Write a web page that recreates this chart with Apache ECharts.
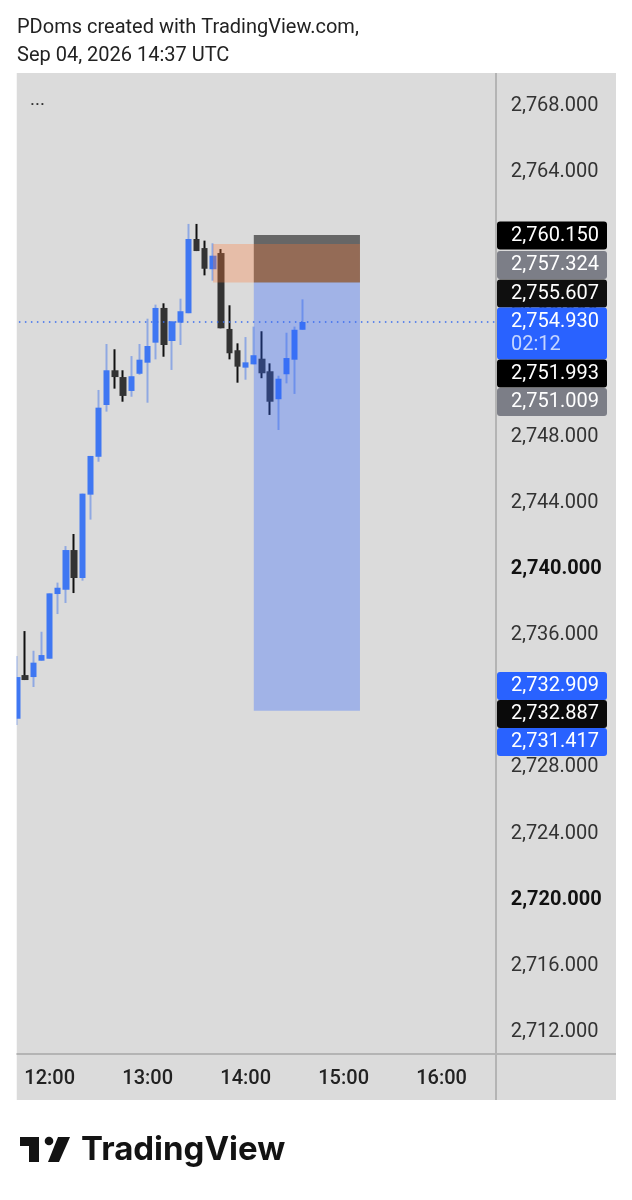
<!DOCTYPE html>
<html><head><meta charset="utf-8">
<style>html,body{margin:0;padding:0;background:#fff}#c{width:632px;height:1200px}</style>
<script src="https://cdn.jsdelivr.net/npm/echarts@6/dist/echarts.min.js"></script>
</head><body><div id="c"></div>
<script>
const candleTimes=["11:40","11:45","11:50","11:55","12:00","12:05","12:10","12:15","12:20","12:25","12:30","12:35","12:40","12:45","12:50","12:55","13:00","13:05","13:10","13:15","13:20","13:25","13:30","13:35","13:40","13:45","13:50","13:55","14:00","14:05","14:10","14:15","14:20","14:25","14:30","14:35"];
const futureTimes=["14:40","14:45","14:50","14:55","15:00","15:05","15:10","15:15","15:20","15:25","15:30","15:35","15:40","15:45","15:50","15:55","16:00","16:05","16:10","16:15","16:20","16:25","16:30"];
const opens=[2730.94,2733.58,2733.46,2734.45,2734.57,2738.48,2738.74,2741.14,2739.45,2744.49,2746.78,2749.91,2752.01,2751.60,2750.76,2751.80,2752.47,2753.68,2755.78,2753.78,2754.89,2755.46,2759.95,2759.40,2758.12,2759.10,2754.51,2753.22,2752.17,2752.37,2752.71,2751.95,2750.26,2751.77,2752.65,2754.46];
const closes=[2733.46,2733.28,2734.33,2734.79,2738.52,2738.86,2741.14,2739.45,2744.55,2746.83,2749.75,2752.01,2751.60,2750.46,2751.65,2752.65,2753.48,2755.78,2753.54,2754.97,2755.58,2759.95,2759.22,2758.15,2758.94,2754.55,2753.04,2752.23,2752.49,2752.92,2751.83,2750.11,2751.50,2752.75,2754.46,2754.93];
const lows=[2730.56,2733.28,2732.86,2734.45,2734.57,2737.27,2737.94,2738.54,2739.29,2742.98,2746.48,2749.51,2750.90,2750.11,2750.41,2751.74,2750.05,2752.67,2752.83,2752.03,2753.54,2755.46,2759.22,2757.75,2757.43,2754.55,2752.67,2751.26,2751.44,2752.37,2751.53,2749.31,2748.40,2751.22,2750.58,2754.46];
const highs=[2734.73,2736.24,2735.05,2736.20,2738.52,2739.17,2741.38,2742.11,2744.55,2746.83,2750.82,2753.60,2753.28,2752.01,2752.87,2753.60,2755.13,2755.98,2756.06,2754.97,2756.34,2760.86,2760.86,2759.85,2759.69,2759.34,2755.94,2753.64,2754.02,2754.65,2754.37,2752.43,2751.68,2754.28,2754.65,2756.30];
const lastPrice=2754.93;
const stopTop=2760.19, orangeTop=2759.65, entryPrice=2757.324, targetPrice=2731.417;
const boxStart="14:05", boxEnd="15:10", orangeStart="13:40";
const boldTicks=[2740,2720];
const tagTexts=["2,760.150","2,757.324","2,755.607","2,754.930","2,751.993","2,751.009","2,732.909","2,732.887","2,731.417"];
const countdownText="02:12";
const titleLines=["PDoms created with TradingView.com,","Sep 04, 2026 14:37 UTC"];

const F='Roboto';
const BLUE='#3f77f2',BLUEW='#8fa8e2',DK='#333333',DKW='#101010';
const cats=candleTimes.concat(futureTimes);
const fmt=v=>v.toLocaleString('en-US',{minimumFractionDigits:3,maximumFractionDigits:3});

// tag stack layout: [top, height, background]
const tagLayout=[[221.5,28,'#000'],[251,28,'#7c7e87'],[279.5,28,'#0f0f0f'],[307.5,52,'#2962ff'],[359.5,28,'#000'],[388,28,'#7c7e87'],[672,28,'#2962ff'],[700,28,'#0a0a0a'],[728,28,'#2962ff']];
const g=[];
g.push({type:'rect',z:-100,shape:{x:16.5,y:73,width:599.5,height:1027},style:{fill:'#dbdbdb'}});
g.push({type:'rect',z:100,shape:{x:0,y:60,width:16.5,height:1060},style:{fill:'#fff'}});
g.push({type:'rect',z:101,shape:{x:495,y:73,width:2,height:1027},style:{fill:'#b4b4b4'}});
g.push({type:'rect',z:101,shape:{x:16.5,y:1053,width:599.5,height:2},style:{fill:'#b4b4b4'}});
tagLayout.forEach((t,i)=>{
  g.push({type:'rect',z:110,shape:{x:497,y:t[0],width:110,height:t[1],r:3},style:{fill:t[2]}});
  g.push({type:'text',z:111,x:511,y:t[0]+14,style:{text:tagTexts[i],fill:'#fff',font:'20px '+F,textVerticalAlign:'middle'}});
});
g.push({type:'text',z:111,x:511,y:345,style:{text:countdownText,fill:'#c5d5ff',font:'20px '+F,textVerticalAlign:'middle'}});
titleLines.forEach((s,i)=>g.push({type:'text',z:111,x:17,y:28+i*28,style:{text:s,fill:'#222',font:'20px '+F,textVerticalAlign:'middle'}}));
g.push({type:'text',z:111,x:30,y:100,style:{text:'...',fill:'#333',font:'19px '+F,textVerticalAlign:'middle'}});
// TradingView logo
g.push({type:'polygon',z:111,shape:{points:[[20,1137],[39,1137],[39,1162],[29,1162],[29,1146],[20,1146]]},style:{fill:'#131313'}});
g.push({type:'circle',z:111,shape:{cx:49,cy:1141,r:4.3},style:{fill:'#131313'}});
g.push({type:'polygon',z:111,shape:{points:[[58,1137],[70,1137],[59,1162],[48,1162]]},style:{fill:'#131313'}});
g.push({type:'text',z:111,x:81,y:1150,style:{text:'TradingView',fill:'#131313',font:'700 33px Inter',textVerticalAlign:'middle'}});

const chart=echarts.init(document.getElementById('c'),null,{renderer:'canvas'});
chart.setOption({
  animation:false,backgroundColor:'#fff',
  graphic:{elements:g},
  grid:{left:12.9,width:481.8,top:39.7,height:1058.4,containLabel:false},
  xAxis:{type:'category',data:cats,position:'bottom',offset:-36,
    axisLine:{show:false},axisTick:{show:false},splitLine:{show:false},
    axisLabel:{interval:(i,v)=>v.endsWith(':00'),color:'#222',fontFamily:F,fontWeight:500,fontSize:20,margin:7,hideOverlap:false}},
  yAxis:{type:'value',position:'right',min:2708,max:2772,interval:4,scale:true,
    axisLine:{show:false},axisTick:{show:false},splitLine:{show:false},
    axisLabel:{show:true,showMinLabel:false,showMaxLabel:false,margin:16,align:'left',
      formatter:v=>boldTicks.includes(v)?'{b|'+fmt(v)+'}':'{n|'+fmt(v)+'}',
      rich:{n:{color:'#333',fontFamily:F,fontSize:20},b:{color:'#111',fontFamily:F,fontSize:20,fontWeight:'bold'}}}},
  series:[
    {name:'wicks',type:'candlestick',barWidth:1,z:2,
      itemStyle:{color:BLUEW,color0:DKW,borderColor:BLUEW,borderColor0:DKW,borderWidth:2},
      data:opens.map((o,i)=>[o,closes[i],lows[i],highs[i]])},
    {name:'bodies',type:'candlestick',barWidth:6.8,z:3,
      itemStyle:{color:BLUE,color0:DK,borderColor:BLUE,borderColor0:DK,borderWidth:0},
      data:opens.map((o,i)=>[o,closes[i],Math.min(o,closes[i]),Math.max(o,closes[i])]),
      markLine:{silent:true,symbol:'none',label:{show:false},
        lineStyle:{color:'#3a6ef0',width:1.5,type:[1.5,4.5]},
        data:[{yAxis:lastPrice}]},
      markArea:{silent:true,z:5,label:{show:false},
        data:[
          [{xAxis:boxStart,yAxis:stopTop,itemStyle:{color:'rgba(30,30,30,0.62)',borderWidth:0}},{xAxis:boxEnd,yAxis:entryPrice}],
          [{xAxis:orangeStart,yAxis:orangeTop,itemStyle:{color:'rgba(255,120,50,0.3)',borderWidth:0}},{xAxis:boxEnd,yAxis:entryPrice}],
          [{xAxis:boxStart,yAxis:entryPrice,itemStyle:{color:'rgba(41,98,255,0.33)',borderWidth:0}},{xAxis:boxEnd,yAxis:targetPrice}]
        ]}}
  ]
});
</script></body></html>
